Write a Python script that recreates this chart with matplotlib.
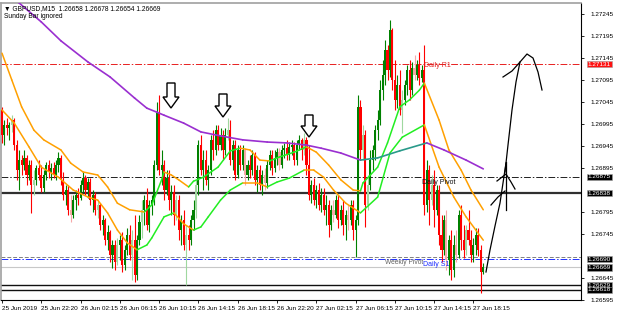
import matplotlib
matplotlib.use("Agg")
import matplotlib.pyplot as plt
from matplotlib.patches import Polygon
from matplotlib.lines import Line2D
import numpy as np

# ---- GBPUSD M15 candles (bar 0 = 25 Jun 2019 ...) ----
opens = [
    1.27027, 1.26970, 1.26993, 1.26986, 1.26993, 1.27004, 1.26947, 1.26890, 1.26913, 1.26902,
    1.26918, 1.26879, 1.26902, 1.26856, 1.26868, 1.26895, 1.26879, 1.26850, 1.26879, 1.26902,
    1.26886, 1.26895, 1.26879, 1.26902, 1.26918, 1.26868, 1.26834, 1.26845, 1.26800, 1.26788,
    1.26822, 1.26834, 1.26827, 1.26856, 1.26872, 1.26845, 1.26863, 1.26822, 1.26834, 1.26800,
    1.26811, 1.26765, 1.26777, 1.26731, 1.26749, 1.26697, 1.26720, 1.26681, 1.26720, 1.26731,
    1.26675, 1.26709, 1.26743, 1.26697, 1.26731, 1.26652, 1.26731, 1.26772, 1.26800, 1.26822,
    1.26765, 1.26811, 1.26822, 1.26902, 1.27020, 1.26890, 1.26902, 1.26845, 1.26872, 1.26822,
    1.26840, 1.26788, 1.26822, 1.26754, 1.26777, 1.26720, 1.26743, 1.26731, 1.26777, 1.26800,
    1.26856, 1.26947, 1.26890, 1.26913, 1.26868, 1.26890, 1.26959, 1.26936, 1.26981, 1.26947,
    1.26970, 1.26936, 1.26970, 1.26981, 1.26913, 1.26947, 1.26879, 1.26936, 1.26902, 1.26936,
    1.26879, 1.26902, 1.26890, 1.26925, 1.26868, 1.26890, 1.26856, 1.26879, 1.26861, 1.26902,
    1.26925, 1.26895, 1.26918, 1.26931, 1.26902, 1.26936, 1.26940, 1.26925, 1.26943, 1.26947,
    1.26913, 1.26947, 1.26959, 1.26936, 1.26959, 1.26902, 1.26834, 1.26856, 1.26822, 1.26845,
    1.26811, 1.26834, 1.26800, 1.26811, 1.26765, 1.26800, 1.26788, 1.26822, 1.26777, 1.26800,
    1.26765, 1.26788, 1.26777, 1.26811, 1.26754, 1.26777, 1.27034, 1.26936, 1.26970, 1.26811,
    1.26856, 1.26913, 1.26936, 1.26981, 1.27004, 1.27072, 1.27106, 1.27163, 1.27118, 1.27209,
    1.27095, 1.27050, 1.27084, 1.27027, 1.27050, 1.27084, 1.27118, 1.27072, 1.27122, 1.27106,
    1.27129, 1.27100, 1.27118, 1.26811, 1.26890, 1.26822, 1.26856, 1.26800, 1.26845, 1.26743,
    1.26709, 1.26777, 1.26686, 1.26731, 1.26663, 1.26720, 1.26697, 1.26788, 1.26731, 1.26709,
    1.26754, 1.26731, 1.26697, 1.26720, 1.26743, 1.26709, 1.26658]
highs = [
    1.27034, 1.27004, 1.27009, 1.27000, 1.27015, 1.27009, 1.26959, 1.26936, 1.26925, 1.26936,
    1.26925, 1.26913, 1.26913, 1.26890, 1.26902, 1.26913, 1.26902, 1.26890, 1.26909, 1.26913,
    1.26906, 1.26909, 1.26913, 1.26931, 1.26925, 1.26886, 1.26856, 1.26856, 1.26834, 1.26834,
    1.26845, 1.26850, 1.26868, 1.26886, 1.26879, 1.26872, 1.26872, 1.26845, 1.26840, 1.26822,
    1.26815, 1.26788, 1.26781, 1.26765, 1.26754, 1.26731, 1.26731, 1.26736, 1.26743, 1.26749,
    1.26720, 1.26759, 1.26765, 1.26754, 1.26788, 1.26743, 1.26788, 1.26822, 1.26834, 1.26850,
    1.26822, 1.26834, 1.26913, 1.27045, 1.27061, 1.26936, 1.26913, 1.26890, 1.26890, 1.26856,
    1.26856, 1.26834, 1.26834, 1.26788, 1.26800, 1.26765, 1.26765, 1.26788, 1.26822, 1.26868,
    1.26959, 1.26970, 1.26936, 1.26936, 1.26902, 1.26970, 1.26981, 1.26993, 1.26993, 1.26986,
    1.26981, 1.26986, 1.27009, 1.27004, 1.26959, 1.26959, 1.26947, 1.26947, 1.26947, 1.26940,
    1.26913, 1.26925, 1.26936, 1.26931, 1.26902, 1.26902, 1.26890, 1.26895, 1.26913, 1.26936,
    1.26936, 1.26936, 1.26940, 1.26940, 1.26947, 1.26952, 1.26959, 1.26954, 1.26959, 1.26954,
    1.26959, 1.26970, 1.26963, 1.26975, 1.26965, 1.26947, 1.26868, 1.26872, 1.26856, 1.26861,
    1.26850, 1.26850, 1.26834, 1.26822, 1.26811, 1.26822, 1.26834, 1.26834, 1.26811, 1.26822,
    1.26800, 1.26811, 1.26822, 1.26822, 1.26788, 1.27061, 1.27050, 1.26993, 1.26981, 1.26879,
    1.26936, 1.26947, 1.26993, 1.27027, 1.27095, 1.27140, 1.27186, 1.27175, 1.27231, 1.27213,
    1.27140, 1.27106, 1.27118, 1.27072, 1.27095, 1.27129, 1.27140, 1.27136, 1.27152, 1.27140,
    1.27158, 1.27129, 1.27175, 1.26913, 1.26902, 1.26879, 1.26890, 1.26856, 1.26856, 1.26788,
    1.26788, 1.26800, 1.26743, 1.26754, 1.26743, 1.26754, 1.26800, 1.26811, 1.26765, 1.26765,
    1.26800, 1.26754, 1.26736, 1.26759, 1.26759, 1.26720, 1.26678]
lows = [
    1.26952, 1.26947, 1.26970, 1.26959, 1.26977, 1.26936, 1.26868, 1.26845, 1.26879, 1.26890,
    1.26856, 1.26868, 1.26793, 1.26834, 1.26856, 1.26868, 1.26840, 1.26840, 1.26868, 1.26872,
    1.26868, 1.26872, 1.26868, 1.26886, 1.26856, 1.26822, 1.26811, 1.26788, 1.26772, 1.26781,
    1.26800, 1.26811, 1.26822, 1.26840, 1.26834, 1.26827, 1.26811, 1.26795, 1.26788, 1.26781,
    1.26754, 1.26743, 1.26720, 1.26709, 1.26681, 1.26668, 1.26663, 1.26675, 1.26686, 1.26659,
    1.26663, 1.26697, 1.26686, 1.26641, 1.26636, 1.26641, 1.26720, 1.26736, 1.26765, 1.26754,
    1.26749, 1.26788, 1.26811, 1.26890, 1.26879, 1.26856, 1.26822, 1.26834, 1.26800, 1.26788,
    1.26765, 1.26777, 1.26731, 1.26720, 1.26709, 1.26629, 1.26709, 1.26720, 1.26754, 1.26781,
    1.26834, 1.26879, 1.26845, 1.26856, 1.26845, 1.26879, 1.26913, 1.26925, 1.26936, 1.26936,
    1.26913, 1.26925, 1.26959, 1.26902, 1.26890, 1.26868, 1.26872, 1.26890, 1.26890, 1.26856,
    1.26868, 1.26872, 1.26879, 1.26856, 1.26840, 1.26845, 1.26834, 1.26845, 1.26850, 1.26890,
    1.26879, 1.26886, 1.26902, 1.26890, 1.26895, 1.26918, 1.26913, 1.26913, 1.26925, 1.26902,
    1.26902, 1.26936, 1.26913, 1.26925, 1.26879, 1.26822, 1.26815, 1.26811, 1.26804, 1.26800,
    1.26795, 1.26788, 1.26765, 1.26738, 1.26754, 1.26772, 1.26781, 1.26759, 1.26765, 1.26743,
    1.26731, 1.26754, 1.26765, 1.26731, 1.26693, 1.26765, 1.26913, 1.26913, 1.26761, 1.26800,
    1.26845, 1.26890, 1.26913, 1.26959, 1.26993, 1.27050, 1.27084, 1.27095, 1.27102, 1.27072,
    1.27027, 1.27031, 1.27015, 1.26975, 1.27038, 1.27061, 1.27050, 1.27061, 1.27095, 1.27095,
    1.27084, 1.27090, 1.26788, 1.26795, 1.26765, 1.26811, 1.26761, 1.26788, 1.26720, 1.26681,
    1.26697, 1.26663, 1.26652, 1.26641, 1.26647, 1.26681, 1.26690, 1.26709, 1.26690, 1.26697,
    1.26720, 1.26681, 1.26681, 1.26697, 1.26695, 1.26611, 1.26654]
closes = [
    1.26970, 1.26993, 1.26986, 1.26993, 1.27004, 1.26947, 1.26890, 1.26913, 1.26902, 1.26918,
    1.26879, 1.26902, 1.26856, 1.26868, 1.26895, 1.26879, 1.26850, 1.26879, 1.26902, 1.26886,
    1.26895, 1.26879, 1.26902, 1.26918, 1.26868, 1.26834, 1.26845, 1.26800, 1.26788, 1.26822,
    1.26834, 1.26827, 1.26856, 1.26872, 1.26845, 1.26863, 1.26822, 1.26834, 1.26800, 1.26811,
    1.26765, 1.26777, 1.26731, 1.26749, 1.26697, 1.26720, 1.26681, 1.26720, 1.26731, 1.26675,
    1.26709, 1.26743, 1.26697, 1.26731, 1.26652, 1.26731, 1.26772, 1.26800, 1.26822, 1.26765,
    1.26811, 1.26822, 1.26902, 1.27020, 1.26890, 1.26902, 1.26845, 1.26872, 1.26822, 1.26840,
    1.26788, 1.26822, 1.26754, 1.26777, 1.26720, 1.26743, 1.26731, 1.26777, 1.26800, 1.26856,
    1.26947, 1.26890, 1.26913, 1.26868, 1.26890, 1.26959, 1.26936, 1.26981, 1.26947, 1.26970,
    1.26936, 1.26970, 1.26981, 1.26913, 1.26947, 1.26879, 1.26936, 1.26902, 1.26936, 1.26879,
    1.26902, 1.26890, 1.26925, 1.26868, 1.26890, 1.26856, 1.26879, 1.26861, 1.26902, 1.26925,
    1.26895, 1.26918, 1.26931, 1.26902, 1.26936, 1.26940, 1.26925, 1.26943, 1.26947, 1.26913,
    1.26947, 1.26959, 1.26936, 1.26959, 1.26902, 1.26834, 1.26856, 1.26822, 1.26845, 1.26811,
    1.26834, 1.26800, 1.26811, 1.26765, 1.26800, 1.26788, 1.26822, 1.26777, 1.26800, 1.26765,
    1.26788, 1.26777, 1.26811, 1.26754, 1.26777, 1.27034, 1.26936, 1.26970, 1.26811, 1.26856,
    1.26913, 1.26936, 1.26981, 1.27004, 1.27072, 1.27106, 1.27163, 1.27118, 1.27209, 1.27095,
    1.27050, 1.27084, 1.27027, 1.27050, 1.27084, 1.27118, 1.27072, 1.27122, 1.27106, 1.27129,
    1.27100, 1.27118, 1.26811, 1.26890, 1.26822, 1.26856, 1.26800, 1.26845, 1.26743, 1.26709,
    1.26777, 1.26686, 1.26731, 1.26663, 1.26720, 1.26697, 1.26788, 1.26731, 1.26709, 1.26754,
    1.26731, 1.26697, 1.26720, 1.26743, 1.26709, 1.26658, 1.26669]
# bars drawn in the pale colours
faded_bars = [4, 13, 28, 39, 47, 53, 57, 71, 75, 79, 92, 99, 107, 113, 123,
              135, 141, 147, 149, 163, 168, 175, 181, 185, 189]

# ---- moving averages (bar index, price) ----
ma_fast_bar = [0, 5, 11, 16, 23, 29, 35, 39, 43, 47, 51, 55, 59, 61, 66, 70, 74, 78, 81,
               84, 89, 93, 98, 104, 108, 112, 117, 123, 127, 131, 135, 140, 146, 153,
               158, 163, 172, 178, 184, 189, 196]
ma_fast_val = [1.27027, 1.26997, 1.26943, 1.26897, 1.26874, 1.26845, 1.26829, 1.26822,
               1.26793, 1.26754, 1.26725, 1.26709, 1.26720, 1.26736, 1.26784, 1.26793,
               1.26768, 1.26754, 1.26761, 1.26784, 1.26822, 1.26845, 1.26861, 1.26861,
               1.26852, 1.26863, 1.26872, 1.26890, 1.26890, 1.26874, 1.26845, 1.26815,
               1.26793, 1.26829, 1.26929, 1.26965, 1.26993, 1.26897, 1.26829, 1.26784,
               1.26731]
ma_slow_bar = [0, 4, 8, 13, 17, 24, 28, 33, 39, 43, 47, 52, 58, 61, 65, 66, 69, 72, 76,
               78, 82, 88, 93, 97, 101, 105, 109, 113, 119, 124, 128, 133, 138, 143, 146,
               147, 153, 157, 162, 166, 170, 172, 178, 182, 187, 191, 196]
ma_slow_val = [1.27156, 1.27095, 1.27034, 1.26981, 1.26959, 1.26936, 1.26906, 1.26886,
               1.26879, 1.26852, 1.26815, 1.26800, 1.26795, 1.26811, 1.26868, 1.26886,
               1.26879, 1.26868, 1.26852, 1.26865, 1.26874, 1.26897, 1.26934, 1.26940,
               1.26936, 1.26913, 1.26911, 1.26920, 1.26931, 1.26943, 1.26931, 1.26902,
               1.26868, 1.26845, 1.26843, 1.26861, 1.26897, 1.26952, 1.27034, 1.27050,
               1.27072, 1.27088, 1.27004, 1.26936, 1.26890, 1.26845, 1.26800]
ma200_bar = [0, 7, 16, 24, 35, 44, 54, 59, 63, 66, 74, 81, 89, 98, 108, 116, 124, 130,
             138, 146, 153, 162, 173, 180, 189, 196]
ma200_val = [1.27306, 1.27270, 1.27227, 1.27184, 1.27136, 1.27102, 1.27054, 1.27031,
             1.27022, 1.27015, 1.26997, 1.26977, 1.26968, 1.26959, 1.26954, 1.26952,
             1.26947, 1.26940, 1.26929, 1.26913, 1.26918, 1.26934, 1.26952, 1.26936,
             1.26913, 1.26893]

time_ticks = [0, 16, 32, 48, 64, 80, 96, 112, 128, 144, 160, 176, 192]
time_labels = ["25 Jun 2019", "25 Jun 22:20", "26 Jun 02:15", "26 Jun 06:15",
               "26 Jun 10:15", "26 Jun 14:15", "26 Jun 18:15", "26 Jun 22:20",
               "27 Jun 02:15", "27 Jun 06:15", "27 Jun 10:15", "27 Jun 14:15",
               "27 Jun 18:15"]
price_ticks = [1.27245, 1.27195, 1.27145, 1.27095, 1.27045, 1.26995, 1.26945,
               1.26895, 1.26795, 1.26745, 1.26645, 1.26595]

daily_r1 = 1.27131
daily_pivot = 1.26875
resistance = 1.26838
weekly_pivot = 1.26693
daily_s1 = 1.26688
bid = 1.26669
support_a = 1.26629
support_b = 1.26618

FONT = ['Liberation Sans', 'DejaVu Sans']
plt.rcParams['font.family'] = FONT

W, H = 625, 316
fig = plt.figure(figsize=(W / 100, H / 100), dpi=100)
ax = fig.add_axes([1 / W, 16 / H, 580 / W, 297 / H])

o = np.array(opens); h = np.array(highs); l = np.array(lows); c = np.array(closes)
idx = np.arange(len(c))
up = c >= o
cols = []
for i in idx:
    if i in faded_bars:
        cols.append('#9fd89f' if up[i] else '#f7a8a8')
    else:
        cols.append('#008000' if up[i] else '#ff0000')

ax.vlines(idx, l, h, colors=cols, lw=0.8, zorder=3)
body = np.maximum(np.abs(c - o), 0.000015)
ax.bar(idx, body, bottom=np.minimum(o, c), width=0.85, color=cols, lw=0, zorder=3)


def slope_line(xs, ys, up_col, down_col, lw=1.1):
    for i in range(len(xs) - 1):
        col = up_col if ys[i + 1] > ys[i] else down_col
        ax.add_line(Line2D(xs[i:i + 2], ys[i:i + 2], color=col, lw=lw,
                           solid_capstyle='round', zorder=4))


slope_line(ma_fast_bar, ma_fast_val, '#22ee22', '#ffa000')
slope_line(ma_slow_bar, ma_slow_val, '#22ee22', '#ffa000')
slope_line(ma200_bar, ma200_val, '#2a9a8a', '#9a2fd0', lw=1.2)

dashdot = (0, (7, 2, 1.5, 2))
ax.axhline(daily_r1, color='#e82020', ls=dashdot, lw=0.7, zorder=2)
ax.axhline(daily_pivot, color='#202020', ls=dashdot, lw=0.7, zorder=2)
ax.axhline(resistance, color='#303030', lw=1.6, zorder=2)
ax.axhline(weekly_pivot, color='#808080', ls=(0, (4, 2)), lw=0.7, zorder=2)
ax.axhline(daily_s1, color='#2030ff', ls=dashdot, lw=0.7, zorder=2)
ax.axhline(bid, color='#c8c8c8', lw=0.8, zorder=2)
ax.axhline(support_a, color='#101010', lw=1.0, zorder=2)
ax.axhline(support_b, color='#101010', lw=1.0, zorder=2)

ax.text(172, daily_r1 - 0.00004, 'Daily R1', color='#e02020', fontsize=5, va='center', zorder=5)
ax.text(171, daily_pivot - 0.00014, 'Daily Pivot', color='#101010', fontsize=5, va='center', zorder=5)
ax.text(156, weekly_pivot - 0.00012, 'Weekly Pivot', color='#606060', fontsize=4.8, va='center', zorder=5)
ax.text(171.5, daily_s1 - 0.00013, 'Daily S1', color='#1a2aff', fontsize=5, va='center', zorder=5)

ax.set_xlim(-0.4, 235.8)
ax.set_ylim(1.26595, 1.27270)
ax.yaxis.tick_right()
ax.set_yticks(price_ticks)
ax.set_yticklabels(['%.5f' % p for p in price_ticks])
ax.set_xticks(time_ticks)
ax.set_xticklabels(time_labels, ha='left')
ax.tick_params(axis='both', labelsize=4.6, length=2.5, width=0.6, colors='black', pad=2)
ax.tick_params(axis='y', pad=4)
for s in ['top', 'left']:
    ax.spines[s].set_color('#a0a0a0')
    ax.spines[s].set_linewidth(1.2)
for s in ['right', 'bottom']:
    ax.spines[s].set_color('black')
    ax.spines[s].set_linewidth(0.8)

# price boxes on the scale
tr = ax.get_yaxis_transform()
boxes = [(daily_r1, '#ff1010'), (daily_pivot, 'black'), (resistance, 'black'),
         (daily_s1, 'black'), (bid, 'black'), (support_a, 'black'), (support_b, 'black')]
for p, bg in boxes:
    lab = '%.5f' % (1.26690 if p == daily_s1 else p)
    ax.text(1.012, p, lab, transform=tr, fontsize=4.6, color='white', va='center',
            ha='left', clip_on=False, zorder=6,
            bbox=dict(boxstyle='square,pad=0.12', fc=bg, ec='#a0a0a0', lw=0.4))


def px(x, y):
    return (x / W, 1 - y / H)


fig.text(*px(4, 9), '\u25bc GBPUSD,M15  1.26658 1.26678 1.26654 1.26669',
         fontsize=4.8, va='center', ha='left')
fig.text(*px(4, 17), 'Sunday Bar ignored', fontsize=4.8, va='center', ha='left')

# hollow down arrows marking the three tops
for xc, top, tip in [(171, 83, 108), (223, 94, 117), (309, 115, 137)]:
    neck = tip - 11
    pts = [px(xc - 4, top), px(xc + 4, top), px(xc + 4, neck), px(xc + 8, neck),
           px(xc, tip), px(xc - 8, neck), px(xc - 4, neck)]
    fig.patches.append(Polygon(pts, closed=True, fc='white', ec='black', lw=1.0,
                               transform=fig.transFigure, zorder=10))

# hand drawn arrows on the right
strokes = [
    [(486, 272), (490, 250), (495, 226), (500, 203), (503, 183), (506, 163)],
    [(491, 205), (498, 197), (505, 191)],
    [(497, 181), (506, 174), (511, 182), (515, 189)],
    [(506, 162), (506, 210)],
    [(505, 172), (508, 145), (512, 110), (516, 82), (520, 62)],
    [(503, 77), (512, 71), (520, 62), (527, 54), (533, 58), (538, 72), (542, 90)],
]
for st in strokes:
    xs = [px(x, y)[0] for x, y in st]
    ys = [px(x, y)[1] for x, y in st]
    fig.add_artist(Line2D(xs, ys, color='black', lw=0.9, transform=fig.transFigure))

fig.savefig('out.png', dpi=100)
